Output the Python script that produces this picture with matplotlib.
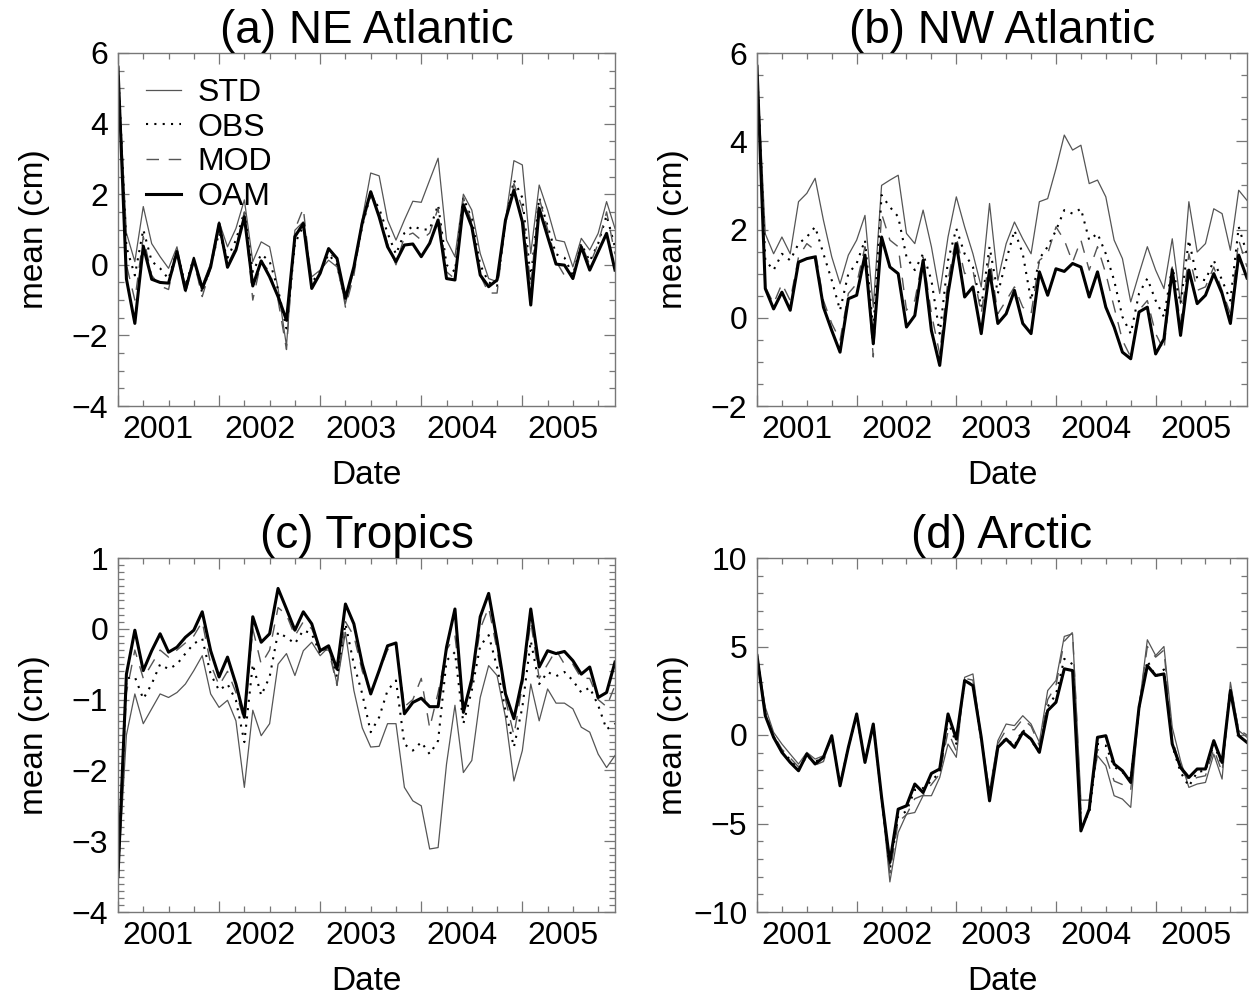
import numpy as np
import matplotlib
matplotlib.use("Agg")
import matplotlib.pyplot as plt
import matplotlib.transforms as mtransforms
from matplotlib.ticker import MultipleLocator, FixedLocator, NullFormatter

plt.rcParams['font.family'] = ['Liberation Sans', 'DejaVu Sans']

# monthly means, Jan 2001 - Dec 2005
months = 2001 + np.arange(60) / 12.0
years = [2001, 2002, 2003, 2004, 2005]

ne_std = [5.6, 0.9, 0.09, 1.65, 0.6, 0.23, -0.1, 0.51, -0.62, 0.13,
          -0.58, 0.04, 1.22, 0.51, 1.03, 1.84, 0.09, 0.65, 0.51, -0.67,
          -2.3, 0.98, 1.22, -0.34, -0.15, 0.13, -0.06, -1.1, -0.15, 1.3,
          2.6, 2.52, 1.27, 0.7, 1.27, 1.8, 1.77, 2.4, 3.02, 0.7,
          0.23, 2.0, 1.55, 0.32, -0.39, -0.48, 1.27, 2.95, 2.83, 0.32,
          2.26, 1.55, 0.7, 0.65, -0.06, 0.75, 0.42, 0.89, 1.79, 1.03]
ne_obs = [5.6, 0.5, -0.3, 1.0, 0.1, -0.1, -0.4, 0.4, -0.6, 0.2,
          -0.8, 0.0, 0.9, 0.2, 0.7, 1.5, -0.2, 0.3, 0.1, -0.7,
          -1.8, 0.6, 1.1, -0.5, -0.2, 0.3, 0.0, -1.0, -0.1, 1.1,
          2.0, 1.6, 0.9, 0.3, 0.9, 1.1, 1.0, 1.0, 1.7, 0.0,
          -0.2, 1.9, 1.3, 0.0, -0.5, -0.6, 1.2, 2.4, 1.9, -0.4,
          1.9, 1.1, 0.3, 0.2, -0.3, 0.6, 0.1, 0.6, 1.4, 0.5]
ne_mod = [5.6, 0.0, -1.0, 0.8, -0.3, -0.6, -0.7, 0.4, -0.8, 0.1,
          -0.9, -0.1, 1.0, 0.0, 0.5, 1.5, -1.0, 0.1, -0.2, -1.0,
          -2.4, 1.0, 1.6, -0.6, -0.2, 0.3, 0.2, -1.2, -0.3, 1.2,
          2.1, 1.5, 0.6, 0.0, 0.8, 0.9, 0.7, 0.9, 1.6, -0.2,
          -0.4, 1.9, 1.2, -0.3, -0.8, -0.8, 1.2, 2.3, 1.6, -0.6,
          1.9, 1.0, 0.1, -0.3, -0.4, 0.6, 0.0, 0.6, 1.5, 0.3]
ne_oam = [5.6, -0.4, -1.66, 0.53, -0.41, -0.5, -0.52, 0.37, -0.72, 0.16,
          -0.67, -0.06, 1.17, -0.07, 0.42, 1.36, -0.6, 0.11, -0.34, -0.9,
          -1.57, 0.8, 1.17, -0.67, -0.24, 0.46, 0.18, -0.95, -0.06, 1.2,
          2.07, 1.36, 0.51, 0.09, 0.56, 0.59, 0.23, 0.61, 1.27, -0.39,
          -0.43, 1.7, 1.08, -0.29, -0.62, -0.43, 1.27, 2.12, 1.22, -1.14,
          1.6, 0.8, 0.02, -0.01, -0.39, 0.51, -0.15, 0.37, 0.89, -0.15]

nw_std = [5.7, 1.9, 1.45, 1.83, 1.45, 2.63, 2.82, 3.16, 2.21, 1.38,
          0.77, 1.42, 1.76, 2.32, 0.24, 3.0, 3.12, 3.23, 1.91, 1.68,
          2.44, 1.61, 0.55, 1.83, 2.74, 2.06, 1.45, 0.7, 2.59, 0.85,
          1.68, 2.17, 1.79, 1.45, 2.63, 2.7, 3.38, 4.14, 3.8, 3.91,
          3.04, 3.12, 2.74, 1.76, 1.34, 0.36, 1.0, 1.61, 1.08, 0.66,
          1.79, 0.32, 2.63, 1.49, 1.68, 2.47, 2.36, 1.53, 2.89, 2.66]
nw_obs = [5.7, 1.3, 1.08, 1.45, 1.3, 1.68, 1.83, 2.06, 1.45, 0.85,
          0.17, 1.0, 1.23, 1.76, -0.29, 2.78, 2.51, 2.29, 1.38, 1.08,
          1.45, 0.85, -0.36, 1.3, 2.02, 1.45, 1.15, 0.24, 1.61, 0.55,
          1.3, 1.98, 1.45, 0.39, 1.34, 1.61, 1.98, 2.44, 2.36, 2.47,
          1.76, 1.91, 1.45, 0.85, 0.02, -0.36, 0.55, 0.89, 0.39, 0.02,
          1.15, 0.32, 1.76, 0.89, 0.85, 1.3, 0.85, 0.39, 2.06, 1.45]
nw_mod = [5.7, 0.7, 0.32, 0.77, 0.39, 1.38, 1.68, 1.53, 0.39, -0.13,
          -0.51, 0.55, 0.77, 1.61, -0.89, 2.36, 1.76, 1.61, 0.17, 0.39,
          1.38, 0.09, -0.82, 0.85, 1.83, 1.0, 1.08, 0.09, 1.38, 0.09,
          0.39, 0.7, 0.24, 0.09, 1.3, 1.45, 2.06, 1.76, 1.26, 1.76,
          1.08, 1.61, 1.0, 0.24, -0.51, -0.89, 0.17, 0.39, -0.36, -0.74,
          1.15, -0.13, 1.45, 0.62, 0.7, 1.15, 0.62, 0.09, 1.76, 1.15]
nw_oam = [5.7, 0.66, 0.2, 0.58, 0.17, 1.26, 1.34, 1.38, 0.24, -0.29,
          -0.78, 0.43, 0.51, 1.42, -0.59, 1.83, 1.15, 1.0, -0.21, 0.05,
          1.3, -0.29, -1.08, 0.55, 1.68, 0.47, 0.7, -0.36, 1.08, -0.13,
          0.09, 0.62, -0.13, -0.36, 1.04, 0.51, 1.11, 1.05, 1.23, 1.15,
          0.47, 1.04, 0.24, -0.21, -0.78, -0.93, 0.13, 0.24, -0.82, -0.48,
          1.08, -0.4, 1.08, 0.32, 0.51, 1.0, 0.55, -0.13, 1.42, 0.9]

tr_std = [-3.5, -1.5, -0.92, -1.34, -1.13, -0.92, -0.97, -0.9, -0.78, -0.59,
          -0.38, -0.92, -1.11, -1.01, -1.3, -2.24, -1.15, -1.51, -1.34, -0.5,
          -0.35, -0.66, -0.31, -0.19, -0.38, -0.26, -0.78, -0.05, -0.87, -1.4,
          -1.67, -1.66, -1.34, -1.34, -2.24, -2.43, -2.5, -3.11, -3.09, -1.91,
          -1.08, -2.03, -1.86, -0.97, -0.52, -0.66, -1.25, -2.15, -1.72, -0.78,
          -1.3, -0.85, -1.05, -1.05, -1.13, -1.39, -1.46, -1.77, -1.96, -1.79]
tr_obs = [-3.5, -0.7, -0.68, -0.99, -0.78, -0.5, -0.57, -0.5, -0.35, -0.21,
          -0.14, -0.64, -0.87, -0.78, -1.01, -1.6, -0.5, -0.94, -0.68, -0.05,
          -0.12, -0.21, -0.02, -0.07, -0.35, -0.26, -0.68, 0.07, -0.5, -0.92,
          -1.46, -1.25, -0.87, -0.73, -1.63, -1.72, -1.6, -1.77, -1.58, -0.45,
          -0.33, -1.34, -0.87, -0.24, -0.09, -0.54, -1.16, -1.67, -1.11, -0.17,
          -0.78, -0.61, -0.67, -0.61, -0.73, -0.9, -0.83, -1.08, -1.42, -1.34]
tr_mod = [-3.5, -0.9, -0.3, -0.7, -0.5, -0.3, -0.4, -0.3, -0.2, -0.1,
          0.1, -0.5, -0.8, -0.6, -0.9, -1.3, 0.0, -0.5, -0.3, 0.3,
          0.2, -0.1, 0.1, 0.0, -0.3, -0.3, -0.8, 0.1, -0.1, -0.6,
          -0.9, -0.6, -0.3, -0.2, -1.1, -1.0, -0.7, -1.4, -0.9, -0.3,
          -0.1, -1.1, -0.8, 0.0, 0.3, -0.3, -1.0, -1.5, -0.8, 0.1,
          -0.7, -0.5, -0.3, -0.5, -0.5, -0.7, -0.7, -1.0, -1.1, -0.8]
tr_oam = [-3.5, -0.64, -0.02, -0.59, -0.31, -0.07, -0.33, -0.26, -0.12, -0.02,
          0.24, -0.31, -0.68, -0.4, -0.78, -1.25, 0.17, -0.19, -0.07, 0.57,
          0.28, -0.02, 0.24, 0.07, -0.31, -0.24, -0.57, 0.35, 0.07, -0.5,
          -0.92, -0.59, -0.24, -0.2, -1.2, -1.04, -0.98, -1.1, -1.1, -0.26,
          0.28, -1.18, -0.71, 0.17, 0.5, -0.17, -0.92, -1.27, -0.71, 0.28,
          -0.54, -0.31, -0.35, -0.32, -0.45, -0.64, -0.54, -0.97, -0.9, -0.47]

ar_std = [4.5, 1.57, 0.15, -0.51, -1.08, -1.64, -0.98, -1.36, -1.17, -0.04,
          -2.87, -0.7, 1.19, -1.55, 0.62, -3.6, -8.3, -5.51, -4.47, -4.38,
          -3.43, -3.43, -2.4, -0.51, -1.26, 3.26, 3.45, -0.13, -3.15, -0.32,
          0.62, 0.53, 1.09, 0.62, -0.42, 2.51, 3.08, 5.57, 5.72, -3.68,
          -3.68, -1.17, -1.74, -3.43, -3.62, -4.09, 1.57, 5.38, 4.49, 5.0,
          0.43, -1.45, -2.96, -2.77, -2.68, -1.08, -2.49, 2.98, 0.25, -0.13]
ar_obs = [4.5, 1.2, -0.1, -0.9, -1.4, -1.9, -1.2, -1.5, -1.3, -0.1,
          -2.8, -0.7, 1.1, -1.5, 0.6, -3.5, -7.6, -4.6, -4.3, -3.1,
          -3.0, -2.6, -2.1, 0.8, -0.5, 3.0, 2.9, -0.3, -3.4, -0.6,
          -0.2, -0.6, 0.3, -0.3, -1.0, 1.6, 2.3, 4.3, 4.0, -4.9,
          -4.5, -0.5, -0.6, -1.8, -2.1, -2.5, 1.5, 4.2, 3.3, 3.7,
          -0.6, -2.1, -2.9, -2.1, -2.0, -0.5, -1.7, 2.6, -0.1, -0.3]
ar_mod = [4.5, 1.3, 0.0, -0.8, -1.3, -1.8, -1.0, -1.7, -1.5, -0.1,
          -2.8, -0.7, 1.1, -1.5, 0.6, -3.5, -7.8, -4.9, -4.5, -3.6,
          -3.4, -2.8, -2.2, 0.2, -0.9, 3.2, 3.1, -0.2, -3.5, -0.5,
          0.3, 0.3, 0.9, 0.5, -0.6, 2.0, 2.8, 5.3, 5.8, -4.2,
          -3.9, -0.8, -1.2, -2.6, -2.8, -3.1, 1.6, 5.0, 4.4, 4.8,
          -0.2, -1.9, -2.6, -2.4, -2.3, -0.8, -2.1, 2.8, 0.3, 0.0]
ar_oam = [4.49, 1.09, -0.13, -0.98, -1.55, -2.02, -1.08, -1.64, -1.26, -0.04,
          -2.87, -0.7, 1.19, -1.55, 0.62, -3.5, -7.2, -4.19, -4.0, -2.77,
          -3.25, -2.17, -1.92, 1.19, -0.23, 3.08, 2.79, -0.13, -3.72, -0.7,
          -0.23, -0.7, 0.15, -0.23, -0.98, 1.38, 1.85, 3.74, 3.64, -5.42,
          -4.19, -0.13, -0.04, -1.64, -2.02, -2.68, 1.57, 3.92, 3.36, 3.45,
          -0.51, -1.83, -2.4, -1.92, -1.92, -0.32, -1.55, 2.51, -0.04, -0.42]

W, H = 1250, 998
FS = 23

# title, series, y-range, labelled step, minor step, axes box in pixels
panels = [
    ("(a) NE Atlantic", (ne_std, ne_obs, ne_mod, ne_oam), (-4, 6), 2, 0.5, (118, 53, 497, 353)),
    ("(b) NW Atlantic", (nw_std, nw_obs, nw_mod, nw_oam), (-2, 6), 2, 0.5, (757, 53, 490, 353)),
    ("(c) Tropics", (tr_std, tr_obs, tr_mod, tr_oam), (-4, 1), 1, 0.1, (118, 558, 497, 354)),
    ("(d) Arctic", (ar_std, ar_obs, ar_mod, ar_oam), (-10, 10), 5, 1.0, (757, 558, 490, 354)),
]

names = ["STD", "OBS", "MOD", "OAM"]
styles = [
    dict(color="#555555", lw=0.9, ls="-"),
    dict(color="black", lw=1.5, ls=(0, (1, 3))),
    dict(color="#555555", lw=1.0, ls=(0, (9, 7))),
    dict(color="black", lw=2.2, ls="-"),
]

fig = plt.figure(figsize=(W / 100, H / 100), dpi=100)

for k, (title, series, ylim, ystep, yminor, box) in enumerate(panels):
    x0, y0, w, h = box
    ax = fig.add_axes([x0 / W, 1 - (y0 + h) / H, w / W, h / H])
    for vals, name, st in zip(series, names, styles):
        ax.plot(months, vals, label=name, **st)

    ax.set_xlim(months[0], months[-1])
    ax.set_ylim(*ylim)
    ax.xaxis.set_major_locator(FixedLocator(years))
    ax.xaxis.set_major_formatter(NullFormatter())
    ax.xaxis.set_minor_locator(MultipleLocator(0.25))
    ax.yaxis.set_major_locator(MultipleLocator(ystep))
    ax.yaxis.set_minor_locator(MultipleLocator(yminor))
    ax.tick_params(which="both", direction="in", top=True, right=True,
                   color="#777777", width=0.9, labelsize=FS, pad=7)
    ax.tick_params(which="major", length=8)
    ax.tick_params(which="minor", length=4)
    for sp in ax.spines.values():
        sp.set_color("#777777")
        sp.set_linewidth(1.0)

    # year labels sit inside each year interval
    trans = mtransforms.blended_transform_factory(ax.transData, ax.transAxes)
    for yr in years:
        ax.text(yr + 0.4, -0.025, str(yr), transform=trans, ha="center",
                va="top", fontsize=FS)

    ax.set_title(title, fontsize=33, pad=3)
    ax.set_xlabel("Date", fontsize=24)
    ax.xaxis.set_label_coords(0.5, -0.152)
    ax.set_ylabel("mean (cm)", fontsize=24)
    ax.yaxis.set_label_coords(-0.137 * 497 / w, 0.5)

    if k == 0:
        ax.legend(loc="upper left", bbox_to_anchor=(28 / w, 0.93),
                  frameon=False, fontsize=FS, handlelength=1.1,
                  handletextpad=0.5, labelspacing=0.15, borderpad=0,
                  borderaxespad=0)

fig.savefig("out.png", dpi=100)
